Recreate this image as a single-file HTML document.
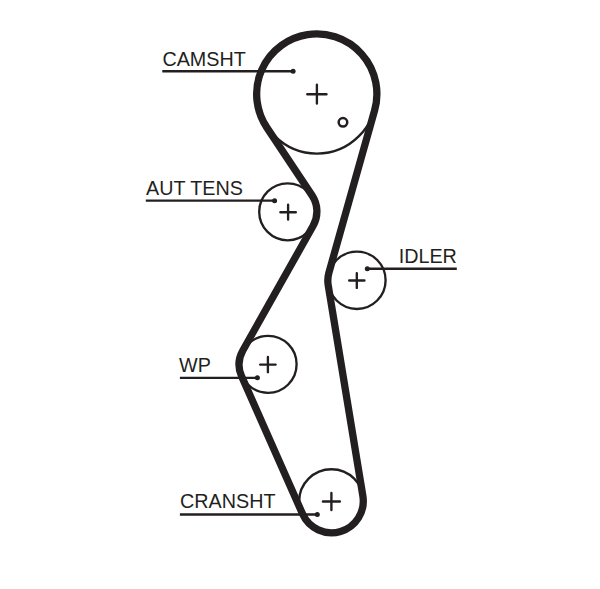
<!DOCTYPE html>
<html><head><meta charset="utf-8"><style>
html,body{margin:0;padding:0;background:#fff;}
svg{display:block;}
text{font-family:"Liberation Sans",sans-serif;font-size:19.75px;}
</style></head><body>
<svg width="600" height="589" viewBox="0 0 600 589">
<g fill="none" stroke="#231f20">
<circle cx="316.9" cy="94.2" r="59.4" stroke-width="2.35"/>
<circle cx="287.7" cy="211.8" r="28.5" stroke-width="2.35"/>
<circle cx="268.1" cy="364.35" r="28.5" stroke-width="2.35"/>
<circle cx="331.4" cy="501.5" r="32.25" stroke-width="2.35"/>
<circle cx="356.9" cy="280.25" r="28.7" stroke-width="2.35"/>
<circle cx="342.95" cy="122.3" r="4.3" stroke-width="2.5"/>
<path d="M307.27 94.20H326.52M316.90 84.78V103.62" stroke-width="2.35" stroke-linecap="round"/>
<path d="M280.38 212.20H295.83M288.10 204.77V219.62" stroke-width="2.35" stroke-linecap="round"/>
<path d="M260.17 364.60H275.62M267.90 357.03V372.18" stroke-width="2.35" stroke-linecap="round"/>
<path d="M322.92 501.50H339.88M331.40 493.02V509.98" stroke-width="2.35" stroke-linecap="round"/>
<path d="M349.18 280.50H364.43M356.80 273.07V287.93" stroke-width="2.35" stroke-linecap="round"/>
<path d="M374.64 110.34 A60.12 60.12 0 1 0 266.74 127.36 L312.03 195.36 A29.03 29.03 0 0 1 313.16 225.70 L242.84 350.48 A28.78 28.78 0 0 0 241.59 376.26 L302.50 513.84 A31.74 31.74 0 0 0 362.85 495.84 L328.20 285.26 A29.00 29.00 0 0 1 328.90 272.69 L374.64 110.34 Z" stroke-width="7.3" stroke-linejoin="round"/>
<path d="M162.3 71.2H293.1" stroke-width="2.35"/>
<path d="M145.8 200.65H274.6" stroke-width="2.35"/>
<path d="M179.9 377.85H257.4" stroke-width="2.35"/>
<path d="M179.9 514.5H317.3" stroke-width="2.35"/>
<path d="M367.3 268.75H456.8" stroke-width="2.35"/>
</g>
<g fill="#231f20">
<circle cx="293.1" cy="71.2" r="2.5"/>
<circle cx="274.6" cy="200.65" r="2.5"/>
<circle cx="257.4" cy="377.85" r="2.5"/>
<circle cx="317.3" cy="514.5" r="2.5"/>
<circle cx="367.3" cy="268.8" r="2.5"/>
<text x="162.4" y="65.5">CAMSHT</text>
<text x="146.0" y="194.6">AUT TENS</text>
<text x="179.1" y="371.6">WP</text>
<text x="180.0" y="508.0">CRANSHT</text>
<text x="398.7" y="262.7">IDLER</text>
</g>
</svg>
</body></html>
